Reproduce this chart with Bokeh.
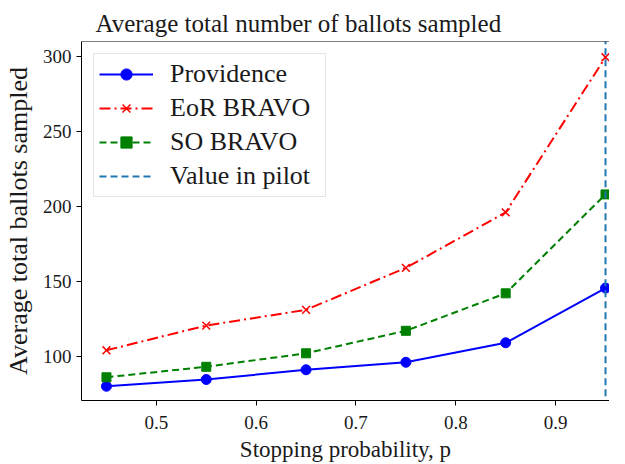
from bokeh.plotting import figure
from bokeh.models import FixedTicker, Range1d, Legend, Span
from bokeh.embed import file_html
from bokeh.resources import INLINE

# ---- data ----
stop_prob = [0.45, 0.55, 0.65, 0.75, 0.85, 0.95]
providence = [80.0, 84.5, 91.0, 96.0, 109.0, 145.5]
eor_bravo = [104.0, 120.5, 131.0, 159.0, 196.0, 299.5]
so_bravo = [86.0, 93.0, 102.0, 117.0, 142.0, 208.0]
pilot_value = 0.95
x_ticks = [0.5, 0.6, 0.7, 0.8, 0.9]
y_ticks = [100, 150, 200, 250, 300]

FONT = "Liberation Serif"
TXT = "#1a1a1a"
Y_MIN, Y_MAX = 70.5, 310.0

p = figure(width=609, height=464, output_backend="svg", toolbar_location=None,
           x_range=Range1d(0.425, 0.954), y_range=Range1d(Y_MIN, Y_MAX),
           min_border_left=80, min_border_right=0, min_border_top=41,
           min_border_bottom=63)

p.title.text = "Average total number of ballots sampled"
p.title.text_font = FONT
p.title.text_font_size = "25px"
p.title.text_font_style = "normal"
p.title.text_color = TXT
p.title.align = "left"
p.title.offset = 14
p.title.standoff = 9

p.outline_line_color = None
p.background_fill_color = "white"
p.border_fill_color = "white"
p.grid.visible = False

xax = p.below[0]
yax = p.left[0]

# top border of the frame (right side is cropped away in the reference)
p.add_layout(Span(location=Y_MAX, dimension="width", line_color="black",
                  line_width=1))

for ax in (xax, yax):
    ax.axis_line_color = "black"
    ax.axis_line_width = 1
    ax.major_tick_line_color = "black"
    ax.major_tick_in = 0
    ax.major_tick_out = 5
    ax.minor_tick_line_color = None
    ax.major_label_text_font = FONT
    ax.major_label_text_font_size = "19px"
    ax.major_label_text_color = TXT
    ax.axis_label_text_font = FONT
    ax.axis_label_text_font_style = "normal"
    ax.axis_label_text_color = TXT

xax.axis_label_text_font_size = "23px"
yax.axis_label_text_font_size = "26px"
xax.ticker = FixedTicker(ticks=x_ticks)
yax.ticker = FixedTicker(ticks=y_ticks)
xax.axis_label = "Stopping probability, p"
yax.axis_label = "Average total ballots sampled"
xax.major_label_standoff = 10
xax.axis_label_standoff = 5
yax.major_label_standoff = 5
yax.axis_label_standoff = 7

# series
r1 = p.line(stop_prob, providence, line_color="#0000ff", line_width=2)
m1 = p.scatter(stop_prob, providence, marker="circle", size=10,
               fill_color="#0000ff", line_color="#0000ff")
r2 = p.line(stop_prob, eor_bravo, line_color="#ff0000", line_width=2,
            line_dash="11 4 2 4")
m2 = p.scatter(stop_prob, eor_bravo, marker="x", size=11,
               line_color="#ff0000", line_width=1.5)
r3 = p.line(stop_prob, so_bravo, line_color="#008000", line_width=2,
            line_dash="7 4")
m3 = p.scatter(stop_prob, so_bravo, marker="square", size=9,
               fill_color="#008000", line_color="#008000")
vline = p.line([pilot_value, pilot_value], [0, 1000], line_color="#1f77b4",
               line_width=2, line_dash="7 4")

legend = Legend(items=[("Providence", [r1, m1]),
                       ("EoR BRAVO", [r2, m2]),
                       ("SO BRAVO", [r3, m3]),
                       ("Value in pilot", [vline])],
                location="top_left", margin=12, padding=5,
                spacing=4, glyph_width=54, glyph_height=28, label_height=28,
                label_standoff=17, label_width=150,
                label_text_font=FONT, label_text_font_size="26px",
                label_text_color=TXT,
                border_line_color="#cccccc", border_line_width=1.5,
                background_fill_color="white", background_fill_alpha=0.85)
p.add_layout(legend)

open("out.html", "w").write(file_html(p, INLINE))
